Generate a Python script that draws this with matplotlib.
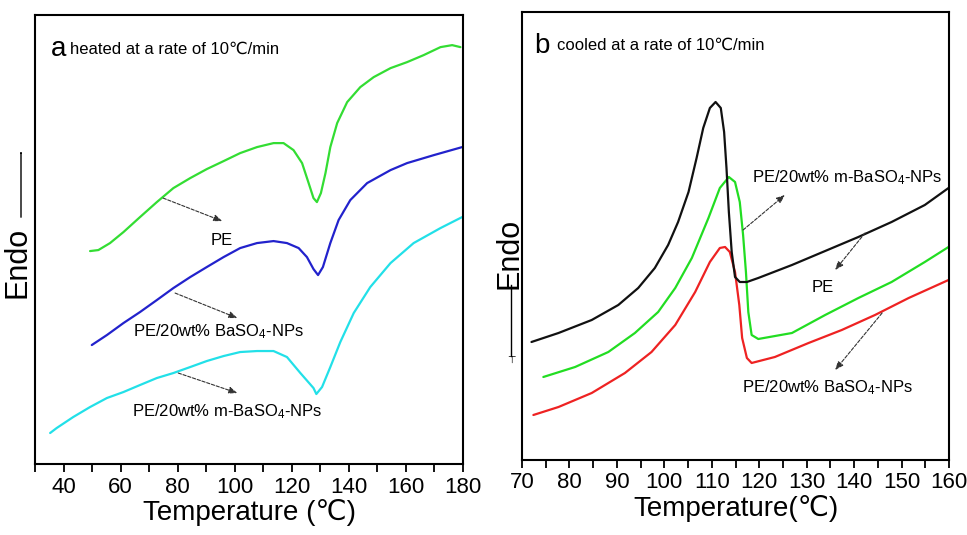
import matplotlib
matplotlib.use("Agg")
import matplotlib.pyplot as plt
from matplotlib import font_manager as fm

names = {f.name for f in fm.fontManager.ttflist}
main_font = 'Liberation Sans Narrow' if 'Liberation Sans Narrow' in names else 'Liberation Sans'
plt.rcParams['font.family'] = [main_font, 'DejaVu Sans']
plt.rcParams['mathtext.fontset'] = 'custom'
plt.rcParams['mathtext.rm'] = main_font
plt.rcParams['mathtext.default'] = 'regular'

# ---------------- data: panel a (heating) ----------------
heat_pe_T = [49.3, 52.2, 56.3, 61.0, 66.8, 72.7, 78.5, 84.4, 90.2, 96.1,
             101.9, 107.8, 113.6, 117.1, 120.6, 123.6, 125.9, 127.6, 128.8, 130.2,
             131.8, 133.5, 135.9, 139.4, 144.0, 148.7, 154.6, 160.4, 166.2, 172.1,
             176.2, 179.1]
heat_pe_y = [213, 214, 221, 232, 247, 262, 276, 286, 295, 303,
             311, 317, 321, 321, 314, 301, 281, 266, 262, 271,
             291, 317, 341, 362, 377, 387, 396, 402, 409, 417,
             419, 417]

heat_ba_T = [49.9, 55.2, 61.0, 66.8, 72.7, 78.5, 84.4, 90.2, 96.1, 101.9,
             107.8, 113.6, 118.3, 122.4, 125.3, 127.6, 129.2, 130.9, 133.5, 136.4,
             140.5, 146.4, 154.6, 160.4, 169.8, 179.7]
heat_ba_y = [119, 129, 141, 152, 164, 176, 187, 197, 207, 216,
             221, 223, 221, 216, 207, 195, 189, 197, 221, 244,
             264, 281, 294, 301, 309, 317]

heat_mba_T = [35.3, 37.6, 43.4, 49.3, 55.2, 61.0, 66.8, 72.7, 78.5, 84.4,
              90.2, 96.1, 101.9, 107.8, 113.6, 118.3, 123.0, 127.6, 128.6, 130.6,
              133.5, 137.0, 141.7, 147.5, 154.6, 162.7, 172.1, 179.7]
heat_mba_y = [31, 36, 47, 57, 66, 72, 79, 86, 91, 97,
              103, 108, 112, 113, 113, 107, 91, 76, 70, 77,
              97, 122, 151, 177, 201, 221, 236, 247]

# ---------------- data: panel b (cooling) ----------------
cool_pe_T = [72.0, 77.7, 84.7, 90.3, 94.5, 98.0, 100.8, 102.9, 105.1, 106.8,
             108.2, 109.6, 110.8, 111.9, 112.6, 113.1, 113.6, 114.2, 114.9, 115.9,
             117.4, 119.8, 126.9, 133.9, 140.9, 147.9, 154.9, 159.9]
cool_pe_y = [118, 127, 140, 155, 172, 192, 215, 238, 268, 302,
             332, 352, 358, 352, 328, 292, 248, 208, 183, 178,
             178, 182, 195, 209, 223, 238, 255, 272]

cool_mba_T = [74.5, 81.2, 88.2, 93.8, 98.7, 102.3, 105.8, 109.3, 111.7, 113.6,
              114.9, 115.9, 116.6, 117.2, 117.7, 118.4, 119.8, 126.9, 133.9, 140.9,
              147.9, 154.9, 159.9]
cool_mba_y = [83, 93, 108, 127, 148, 172, 202, 242, 272, 283,
              278, 258, 225, 188, 148, 125, 121, 127, 145, 162,
              178, 198, 213]

cool_ba_T = [72.4, 77.7, 84.7, 91.7, 97.3, 102.3, 106.5, 109.6, 111.7, 112.8,
             113.8, 114.9, 115.8, 116.4, 117.4, 118.4, 123.3, 130.4, 137.4, 144.4,
             151.5, 159.9]
cool_ba_y = [45, 53, 67, 87, 108, 135, 168, 198, 212, 213,
             208, 188, 155, 122, 102, 97, 103, 117, 130, 145,
             162, 180]

heat_ticks = [40, 60, 80, 100, 120, 140, 160, 180]
cool_ticks = [70, 80, 90, 100, 110, 120, 130, 140, 150, 160]

label_pe = 'PE'
label_ba = 'PE/20wt% BaSO$_4$-NPs'
label_mba = 'PE/20wt% m-BaSO$_4$-NPs'

fig = plt.figure(figsize=(9.67, 5.35), dpi=100)
axA = fig.add_axes([0.0362, 0.1327, 0.4426, 0.839])
axB = fig.add_axes([0.5398, 0.1402, 0.4416, 0.8374])

lw = 1.6
kw = dict(lw=lw, solid_joinstyle='round', solid_capstyle='round')
axA.plot(heat_pe_T, heat_pe_y, color='#33dd33', **kw)
axA.plot(heat_ba_T, heat_ba_y, color='#2222cc', **kw)
axA.plot(heat_mba_T, heat_mba_y, color='#22e0e8', **kw)
axA.set_xlim(30, 180)
axA.set_ylim(0, 449)

axB.plot(cool_mba_T, cool_mba_y, color='#22dd22', **kw)
axB.plot(cool_ba_T, cool_ba_y, color='#ee2222', **kw)
axB.plot(cool_pe_T, cool_pe_y, color='#111111', **kw)
axB.set_xlim(70, 160)
axB.set_ylim(0, 448)

arrow_kw = dict(arrowstyle='-|>,head_length=0.5,head_width=0.2', color='#333333',
                lw=0.8, linestyle=(0, (3, 1.5)), shrinkA=0, shrinkB=0)
txt_fs = 12

def note(ax, text, tx, ty, x0, y0, x1, y1):
    ax.annotate('', xy=(x1, y1), xytext=(x0, y0), arrowprops=arrow_kw)
    ax.text(tx, ty, text, ha='center', va='center', fontsize=txt_fs)

note(axA, label_pe, 95.6, 224, 74.9, 266, 95.6, 243)
note(axA, label_ba, 94.2, 132, 79.1, 171, 100.9, 146)
note(axA, label_mba, 97.5, 52, 80.2, 91, 100.9, 71)

note(axB, label_mba, 138.5, 282, 116.6, 230, 125.4, 265)
note(axB, label_pe, 133.4, 172, 142.3, 227, 136.0, 190)
note(axB, label_ba, 134.3, 72, 145.9, 147, 136.0, 90)

axA.text(0.036, 0.925, 'a', transform=axA.transAxes, fontsize=20, va='center', ha='left')
axA.text(0.082, 0.925, 'heated at a rate of 10\u2103/min', transform=axA.transAxes,
         fontsize=12, va='center', ha='left')
axB.text(0.028, 0.925, 'b', transform=axB.transAxes, fontsize=20, va='center', ha='left')
axB.text(0.082, 0.925, 'cooled at a rate of 10\u2103/min', transform=axB.transAxes,
         fontsize=12, va='center', ha='left')

for ax, ticks, step in ((axA, heat_ticks, 10), (axB, cool_ticks, 5)):
    ax.set_xticks(ticks)
    lo, hi = ax.get_xlim()
    minors = [lo + i * step for i in range(int(round((hi - lo) / step)) + 1)]
    ax.set_xticks([m for m in minors if m not in ticks], minor=True)
    ax.set_yticks([])
    ax.tick_params(axis='x', which='both', direction='out', length=6, width=1.3,
                   labelsize=16, pad=3)
    for s in ax.spines.values():
        s.set_linewidth(1.5)

axA.set_xlabel('Temperature (\u2103)', fontsize=20, labelpad=1)
axB.set_xlabel('Temperature(\u2103)', fontsize=20, labelpad=1)

# y labels
fig.text(18 / 967, 1 - 262 / 535, 'Endo', rotation=90, fontsize=22, ha='center', va='center')
fig.add_artist(matplotlib.patches.FancyArrowPatch(
    (21 / 967, 1 - 220 / 535), (21 / 967, 1 - 148 / 535), transform=fig.transFigure,
    arrowstyle='-|>,head_length=0.4,head_width=0.15', color='black', lw=1.0))
fig.text(509 / 967, 1 - 253 / 535, 'Endo', rotation=90, fontsize=22, ha='center', va='center')
fig.add_artist(matplotlib.lines.Line2D([511 / 967, 511 / 967], [1 - 285 / 535, 1 - 356 / 535],
                                       transform=fig.transFigure, color='black', lw=1.0))
fig.text(511 / 967, 1 - 360 / 535, '\u22a4', fontsize=7, ha='center', va='center')

fig.savefig('out.png', dpi=100)
